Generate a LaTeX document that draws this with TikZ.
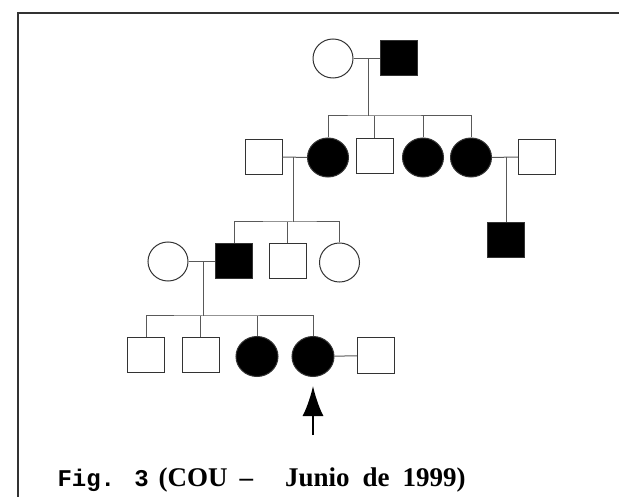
\documentclass[tikz,border=0pt]{standalone}
\usepackage{fontspec}
\usepackage{tikz}
\usetikzlibrary{arrows.meta,shapes.geometric}
\newfontfamily\courfont{Liberation Mono}
\newfontfamily\timesfont{Liberation Serif}

\begin{document}
\begin{tikzpicture}[x=1pt,y=-1pt,line width=1pt,
            male/.style = {draw=black!80, rectangle, inner sep=0pt,
                        minimum width=37pt, minimum height=35pt},
            female/.style = {draw=black!80, ellipse, inner sep=0pt,
                        minimum width=40pt, minimum height=39pt},
            aff/.style = {fill=black},
            link/.style = {draw=black!65}]
            \useasboundingbox (0,0) rectangle (619,497);
            % frame
            \draw [line width=2pt, black!80] (619,13) -- (18,13) -- (18,497);
            % Generation I
            \node[female] (I1) at (333,58.5) {};
            \node[male,aff] (I2) at (399,58.5) {};
            % Generation II
            \node[male] (IIa) at (263.5,157) {};
            \node[female,aff,minimum width=41pt] (II1) at (328,157.5) {};
            \node[male] (II2) at (374.5,156.5) {};
            \node[female,aff,minimum width=41pt] (II3) at (423,157.5) {};
            \node[female,aff,minimum width=41pt] (II4) at (471,157.5) {};
            \node[male] (IIb) at (537,157) {};
            % Generation III
            \node[female] (IIIa) at (168,261.5) {};
            \node[male,aff] (III1) at (234,261.5) {};
            \node[male] (III2) at (287.5,261.5) {};
            \node[female] (III3) at (339.5,262.5) {};
            \node[male,aff] (III4) at (506,240.5) {};
            % Generation IV
            \node[male] (IV1) at (146,355) {};
            \node[male] (IV2) at (200.5,355) {};
            \node[female,aff,minimum width=42pt,minimum height=40pt] (IV3) at (257,356.5) {};
            \node[female,aff,minimum width=42pt,minimum height=40pt] (IV4) at (313,356.5) {};
            \node[male] (IVa) at (376,355.5) {};
            % Marriage and descent points
            \coordinate (mI) at (368,58.5);
            \coordinate (sI) at (368,116);
            \coordinate (mII) at (293,157);
            \coordinate (sII) at (293,222);
            \coordinate (mIIb) at (506,157);
            \coordinate (mIII) at (203,261.5);
            \coordinate (sIII) at (203,316);
            \coordinate (arr) at (313,435);
            % Lines
            \draw[link] (I1) -- (I2);
            \draw[link] (mI) -- (sI);
            \draw[link] (II1.north) |- (sI) -| (II4.north);
            \draw[link] (II2.north) -- (II2.north |- sI);
            \draw[link] (II3.north) -- (II3.north |- sI);
            \draw[link] (IIa) -- (II1);
            \draw[link] (mII) -- (sII);
            \draw[link] (II4) -- (IIb);
            \draw[link] (mIIb) -- (III4.north);
            \draw[link] (III1.north) |- (sII) -| (III3.north);
            \draw[link] (III2.north) -- (III2.north |- sII);
            \draw[link] (IIIa) -- (III1);
            \draw[link] (mIII) -- (sIII);
            \draw[link] (IV1.north) |- (sIII) -| (IV4.north);
            \draw[link] (IV2.north) -- (IV2.north |- sIII);
            \draw[link] (IV3.north) -- (IV3.north |- sIII);
            \draw[link] (IV4) -- (IVa);
            % Proband arrow
            \draw[line width=2.5pt, -{Latex[length=30pt,width=21pt]}, shorten >=9pt] (arr) -- (IV4.south);
            % Caption
            \node[anchor=base west, inner sep=0pt] (cap) at (57,486)
                {{\courfont\bfseries\fontsize{24}{28}\selectfont Fig. 3}\hspace{10pt}{\timesfont\bfseries\fontsize{27}{30}\selectfont (COU\hspace{12pt}–\hspace{32pt}Junio\hspace{13pt}de\hspace{13pt}1999)}};
        \end{tikzpicture}
\end{document}
